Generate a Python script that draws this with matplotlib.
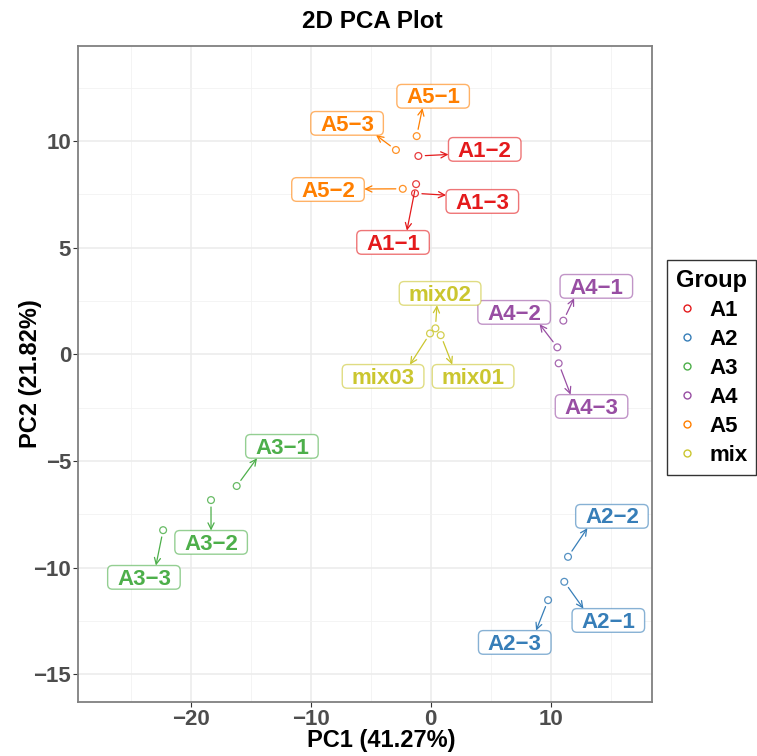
import matplotlib
matplotlib.use("Agg")
import matplotlib.pyplot as plt
from matplotlib.patches import BoxStyle
from matplotlib.lines import Line2D
from matplotlib.colors import to_rgba

plt.rcParams['font.family'] = ['Liberation Sans', 'DejaVu Sans']

# PCA scores
samples = ['A1−1', 'A1−2', 'A1−3', 'A2−1', 'A2−2', 'A2−3', 'A3−1', 'A3−2', 'A3−3',
           'A4−1', 'A4−2', 'A4−3', 'A5−1', 'A5−2', 'A5−3', 'mix01', 'mix02', 'mix03']
groups = ['A1'] * 3 + ['A2'] * 3 + ['A3'] * 3 + ['A4'] * 3 + ['A5'] * 3 + ['mix'] * 3
pc1 = [-1.22, -1.03, -1.31, 11.13, 11.44, 9.78, -16.17, -18.31, -22.3,
       11.05, 10.55, 10.66, -1.17, -2.33, -2.9, 0.83, 0.39, -0.06]
pc2 = [7.98, 9.30, 7.55, -10.66, -9.49, -11.52, -6.17, -6.83, -8.24,
       1.58, 0.33, -0.42, 10.23, 7.76, 9.58, 0.90, 1.22, 0.98]

# where the repelled labels ended up
label_x = [-3.14, 4.5, 4.3, 14.8, 15.1, 7.0, -12.4, -18.3, -23.9,
           13.8, 6.95, 13.4, 0.2, -8.56, -6.97, 3.53, 0.78, -3.97]
label_y = [5.17, 9.53, 7.09, -12.55, -7.67, -13.58, -4.39, -8.89, -10.53,
           3.11, 1.89, -2.52, 12.02, 7.65, 10.75, -1.11, 2.78, -1.11]

group_names = ['A1', 'A2', 'A3', 'A4', 'A5', 'mix']
group_colors = ['#E41A1C', '#377EB8', '#4DAF4A', '#984EA3', '#FF7F00', '#CBC62F']
col = dict(zip(group_names, group_colors))


def label_box(x0, y0, width, height, mutation_size):
    # wide horizontal padding, tight vertical padding (like ggrepel labels)
    padx = 0.42 * mutation_size
    pad_bot = -0.015 * mutation_size
    pad_top = 0.135 * mutation_size
    return BoxStyle.Round(pad=0, rounding_size=0.22)(
        x0 - padx, y0 - pad_bot, width + 2 * padx, height + pad_bot + pad_top, mutation_size)


def connect_point(px, py, ext):
    # halfway between the nearest spot on the box and the spot where the
    # line to the box centre crosses its edge (pixel space)
    nx = min(max(px, ext.x0), ext.x1)
    ny = min(max(py, ext.y0), ext.y1)
    cx, cy = (ext.x0 + ext.x1) / 2, (ext.y0 + ext.y1) / 2
    dx, dy = px - cx, py - cy
    s = min(ext.width / 2 / abs(dx) if dx else 1e9, ext.height / 2 / abs(dy) if dy else 1e9)
    ix, iy = cx + dx * s, cy + dy * s
    return (nx + ix) / 2, (ny + iy) / 2


fig = plt.figure(figsize=(7.57, 7.56), dpi=100)
ax = fig.add_axes([0.1034, 0.0710, 0.7576, 0.8686])

ax.set_xlim(-29.37, 18.42)
ax.set_ylim(-16.31, 14.47)
ax.set_xticks([-20, -10, 0, 10])
ax.set_xticks([-25, -15, -5, 5, 15], minor=True)
ax.set_yticks([-15, -10, -5, 0, 5, 10])
ax.set_yticks([-12.5, -7.5, -2.5, 2.5, 7.5, 12.5], minor=True)
ax.set_xticklabels(['\u221220', '\u221210', '0', '10'])
ax.set_yticklabels(['\u221215', '\u221210', '\u22125', '0', '5', '10'])
ax.grid(which='major', color='#EBEBEB', lw=1.1, zorder=0)
ax.grid(which='minor', color='#F2F2F2', lw=0.6, zorder=0)
ax.set_axisbelow(True)
ax.tick_params(which='major', length=3.6, width=0.8, color='#333333', pad=1.5,
               labelsize=16, labelcolor='#4D4D4D')
ax.tick_params(which='minor', length=0)
for lab in ax.get_xticklabels() + ax.get_yticklabels():
    lab.set_fontweight('bold')
for sp in ax.spines.values():
    sp.set_color('#808080')
    sp.set_linewidth(1.3)

texts = []
for i in range(len(samples)):
    c = col[groups[i]]
    ax.scatter(pc1[i], pc2[i], s=24, facecolors='none', edgecolors=c, linewidths=0.9,
               alpha=0.85, zorder=3)
    t = ax.text(label_x[i], label_y[i], samples[i], ha='center', va='center',
                fontsize=16, fontweight='bold', color=c, zorder=5,
                bbox=dict(boxstyle=label_box, facecolor='white',
                          edgecolor=to_rgba(c, 0.6), lw=1.0))
    texts.append(t)

# segments from each point to its label box
fig.canvas.draw()
renderer = fig.canvas.get_renderer()
inv = ax.transData.inverted()
for i, t in enumerate(texts):
    c = col[groups[i]]
    ext = t.get_bbox_patch().get_window_extent(renderer)
    px, py = ax.transData.transform((pc1[i], pc2[i]))
    tx, ty = inv.transform(connect_point(px, py, ext))
    ax.annotate('', xy=(tx, ty), xytext=(pc1[i], pc2[i]),
                arrowprops=dict(arrowstyle='->,head_length=0.45,head_width=0.22', color=c, lw=0.9,
                                shrinkA=5, shrinkB=0, mutation_scale=10),
                zorder=4)

ax.set_xlabel('PC1 (41.27%)', fontsize=17, fontweight='bold', va='center')
ax.xaxis.set_label_coords(0.528, -0.058)
ax.set_ylabel('PC2 (21.82%)', fontsize=17, fontweight='bold', va='center')
ax.yaxis.set_label_coords(-0.083, 0.5)

fig.text(0.492, 0.971, '2D PCA Plot', ha='center', va='center', fontsize=17.5, fontweight='bold')

handles = [Line2D([], [], marker='o', ls='', mfc='none', mec=c, ms=5, mew=1) for c in group_colors]
leg = fig.legend(handles, group_names, title='Group', loc='upper left',
                 bbox_to_anchor=(667 / 757, 1 - 260 / 756), borderaxespad=0,
                 fontsize=16, title_fontsize=17, alignment='left', frameon=True,
                 fancybox=False, edgecolor='black', handlelength=1.0, handletextpad=0.5,
                 labelspacing=0.36, borderpad=0.4)
leg.get_frame().set_linewidth(1.0)
leg.get_title().set_fontweight('bold')
for t in leg.get_texts():
    t.set_fontweight('bold')

fig.savefig('out.png', dpi=100)
